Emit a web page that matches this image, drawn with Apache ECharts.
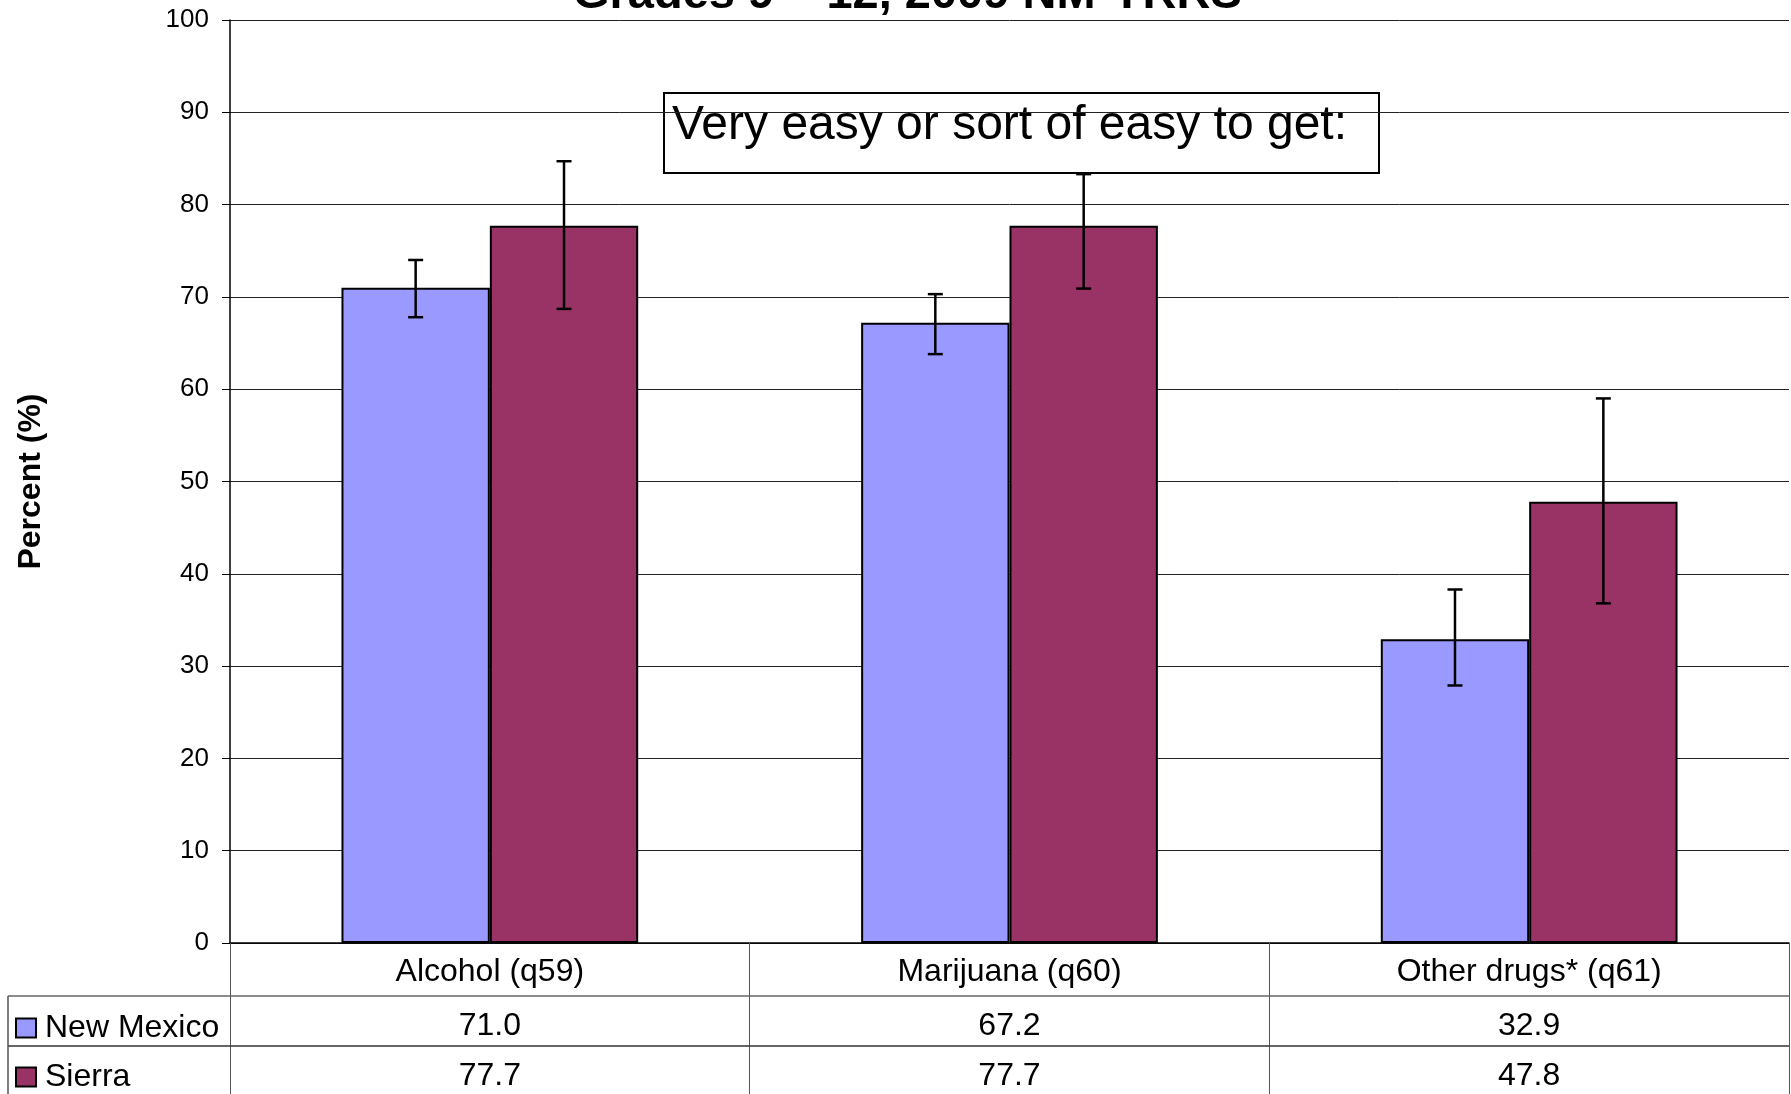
<!DOCTYPE html>
<html>
<head>
<meta charset="utf-8">
<script src="https://cdn.jsdelivr.net/npm/echarts@6/dist/echarts.min.js"></script>
<style>
html,body{margin:0;padding:0;background:#fff;}
#chart{width:1791px;height:1094px;}
</style>
</head>
<body>
<div id="chart"></div>
<script>
// ---- data ----
const categories = ['Alcohol (q59)', 'Marijuana (q60)', 'Other drugs* (q61)'];
const seriesNames = ['New Mexico', 'Sierra'];
const nmValues = [71.0, 67.2, 32.9];
const sierraValues = [77.7, 77.7, 47.8];
const nmLow = [67.8, 63.8, 27.9];
const nmHigh = [74.0, 70.3, 38.3];
const sierraLow = [68.7, 70.9, 36.8];
const sierraHigh = [84.7, 83.3, 59.0];
const yTicks = [0, 10, 20, 30, 40, 50, 60, 70, 80, 90, 100];
const titleText = 'Grades 9 \u2013 12, 2009 NM-YRRS';
const noteText = 'Very easy or sort of easy to get:';
const yName = 'Percent (%)';

const FONT = '"Liberation Sans", Arial, Helvetica, sans-serif';
const NM_COLOR = '#9999FF';
const SI_COLOR = '#993366';

const chart = echarts.init(document.getElementById('chart'), null, {renderer: 'canvas'});

function errSeries(name, low, high, shift) {
  return {
    name: name + ' error',
    type: 'custom',
    z: 5,
    silent: true,
    encode: {x: 0, y: [1, 2]},
    data: low.map((l, i) => [i, l, high[i]]),
    renderItem: function (params, api) {
      const idx = api.value(0);
      const band = api.size([1, 0])[0];
      const off = shift * band;
      const lo = api.coord([idx, api.value(1)]);
      const hi = api.coord([idx, api.value(2)]);
      const x = lo[0] + off;
      const cap = 7.5;
      const st = {stroke: '#000', lineWidth: 2.5};
      return {
        type: 'group',
        children: [
          {type: 'line', shape: {x1: x, y1: lo[1], x2: x, y2: hi[1]}, style: st},
          {type: 'line', shape: {x1: x - cap, y1: lo[1], x2: x + cap, y2: lo[1]}, style: st},
          {type: 'line', shape: {x1: x - cap, y1: hi[1], x2: x + cap, y2: hi[1]}, style: st}
        ]
      };
    }
  };
}

const barShift = (1 - 0.429) / 4; // half of one bar width as fraction of band

const option = {
  backgroundColor: '#ffffff',
  animation: false,
  textStyle: {fontFamily: FONT, color: '#000'},
  title: {
    text: titleText,
    left: 568,
    top: -33,
    textStyle: {fontFamily: FONT, fontSize: 47, fontWeight: 'bold', color: '#000'}
  },
  legend: {
    orient: 'vertical',
    left: 15,
    top: 1012,
    padding: 0,
    itemWidth: 20,
    itemHeight: 19,
    itemGap: 17,
    icon: 'rect',
    data: seriesNames,
    selectedMode: false,
    itemStyle: {borderColor: '#000', borderWidth: 2},
    textStyle: {fontFamily: FONT, fontSize: 32, color: '#000', lineHeight: 32, padding: [0, 0, 0, 4]},
    inactiveColor: '#ccc'
  },
  grid: {left: 230, right: 2, top: 20, bottom: 151, containLabel: false},
  xAxis: {
    type: 'category',
    data: categories,
    boundaryGap: true,
    axisLine: {show: true, lineStyle: {color: '#000', width: 1.5}},
    axisTick: {show: true, length: 151, alignWithLabel: false, lineStyle: {color: '#555', width: 1}},
    splitLine: {show: false},
    axisLabel: {
      interval: 0,
      margin: 1,
      color: '#000',
      fontFamily: FONT,
      formatter: function (val, idx) {
        return '{c|' + val + '}\n{v|' + nmValues[idx].toFixed(1) + '}\n{v|' + sierraValues[idx].toFixed(1) + '}';
      },
      rich: {
        c: {fontFamily: FONT, fontSize: 32, lineHeight: 57, color: '#000'},
        v: {fontFamily: FONT, fontSize: 32, lineHeight: 50, color: '#000'}
      }
    }
  },
  yAxis: {
    type: 'value',
    min: yTicks[0],
    max: yTicks[yTicks.length - 1],
    interval: yTicks[1] - yTicks[0],
    name: yName,
    nameLocation: 'middle',
    nameRotate: 90,
    nameGap: 183,
    nameTextStyle: {fontFamily: FONT, fontSize: 32, fontWeight: 'bold', color: '#000'},
    axisLine: {show: true, lineStyle: {color: '#000', width: 1.5}},
    axisTick: {show: true, length: 8, inside: false, lineStyle: {color: '#000', width: 1}},
    axisLabel: {margin: 21, fontFamily: FONT, fontSize: 26, color: '#000'},
    splitLine: {show: true, lineStyle: {color: '#222', width: 1}}
  },
  series: [
    {
      name: seriesNames[0],
      type: 'bar',
      data: nmValues,
      barGap: '0%',
      barCategoryGap: '42.9%',
      itemStyle: {color: NM_COLOR, borderColor: '#000', borderWidth: 2},
      z: 2
    },
    {
      name: seriesNames[1],
      type: 'bar',
      data: sierraValues,
      barGap: '0%',
      barCategoryGap: '42.9%',
      itemStyle: {color: SI_COLOR, borderColor: '#000', borderWidth: 2},
      z: 2
    },
    errSeries(seriesNames[0], nmLow, nmHigh, -barShift),
    errSeries(seriesNames[1], sierraLow, sierraHigh, barShift)
  ],
  graphic: [
    // annotation box
    {
      type: 'group',
      z: 100,
      children: [
        {type: 'rect', shape: {x: 664, y: 93, width: 715, height: 80}, style: {fill: '#fff', stroke: '#000', lineWidth: 2}},
        {type: 'text', x: 672, y: 126, style: {text: noteText, font: '48px ' + FONT, fill: '#000', textVerticalAlign: 'middle', textAlign: 'left'}}
      ]
    },
    // table lines
    {type: 'line', z: 50, shape: {x1: 8, y1: 996, x2: 1789, y2: 996}, style: {stroke: '#666', lineWidth: 1.5}},
    {type: 'line', z: 50, shape: {x1: 8, y1: 1046, x2: 1789, y2: 1046}, style: {stroke: '#333', lineWidth: 1.5}},
    {type: 'line', z: 50, shape: {x1: 8, y1: 996, x2: 8, y2: 1094}, style: {stroke: '#555', lineWidth: 1.5}}
  ]
};

chart.setOption(option);
</script>
</body>
</html>
